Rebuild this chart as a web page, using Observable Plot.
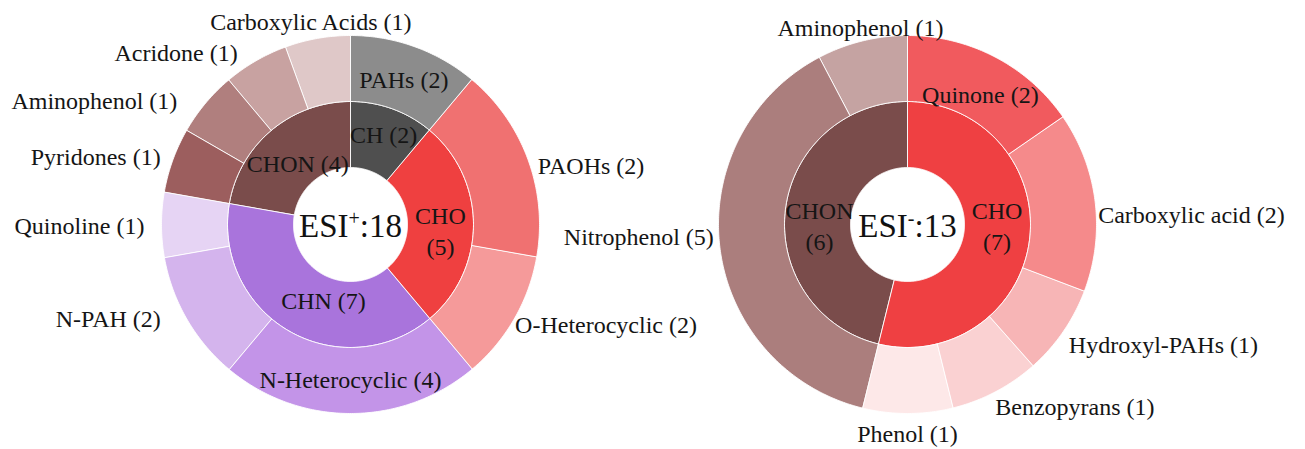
<!DOCTYPE html>
<html>
<head>
<meta charset="utf-8">
<script src="https://cdn.jsdelivr.net/npm/d3@7"></script>
<script src="https://cdn.jsdelivr.net/npm/@observablehq/plot@0.6"></script>
<style>
  html, body { margin: 0; padding: 0; background: #fff; }
  #chart svg { display: block; }
  #chart svg text, #chart svg tspan { font-family: "Liberation Serif", "Times New Roman", serif !important; }
</style>
</head>
<body>
<div id="chart"></div>
<script>
// ---------------- ESI+ (left) data ----------------
const posGroups = ["CH", "CHO", "CHN", "CHON"];
const posGroupCounts = [2, 5, 7, 4];
const posGroupLabels = ["CH (2)", "CHO\n(5)", "CHN (7)", "CHON (4)"];

const posClasses = ["PAHs", "PAOHs", "O-Heterocyclic", "N-Heterocyclic", "N-PAH", "Quinoline",
                    "Pyridones", "Aminophenol", "Acridone", "Carboxylic Acids"];
const posClassGroup = ["CH", "CHO", "CHO", "CHN", "CHN", "CHN", "CHON", "CHON", "CHON", "CHON"];
const posClassCounts = [2, 3, 2, 4, 2, 1, 1, 1, 1, 1];   // arc sizes as drawn
const posClassLabels = ["PAHs (2)", "PAOHs (2)", "O-Heterocyclic (2)", "N-Heterocyclic (4)", "N-PAH (2)",
                        "Quinoline (1)", "Pyridones (1)", "Aminophenol (1)", "Acridone (1)", "Carboxylic Acids (1)"];
const posCenterLabel = ["ESI", "+", ":18"];

// ---------------- ESI- (right) data ----------------
const negGroups = ["CHO", "CHON"];
const negGroupCounts = [7, 6];
const negGroupLabels = ["CHO\n(7)", "CHON\n(6)"];

const negClasses = ["Quinone", "Carboxylic acid", "Hydroxyl-PAHs", "Benzopyrans", "Phenol", "Nitrophenol", "Aminophenol"];
const negClassGroup = ["CHO", "CHO", "CHO", "CHO", "CHO", "CHON", "CHON"];
const negClassCounts = [2, 2, 1, 1, 1, 5, 1];
const negClassLabels = ["Quinone (2)", "Carboxylic acid (2)", "Hydroxyl-PAHs (1)", "Benzopyrans (1)",
                        "Phenol (1)", "Nitrophenol (5)", "Aminophenol (1)"];
const negCenterLabel = ["ESI", "-", ":13"];

// ---------------- styles ----------------
const posGroupColors = ["#4f4f4f", "#ef4040", "#a974dc", "#7a4c4b"];
const posClassColors = ["#8c8c8c", "#f07171", "#f59a9a", "#c394e8", "#d4b4ed", "#e6d4f4",
                        "#9c5e5e", "#b07f7e", "#c8a2a1", "#dfc8c8"];
const negGroupColors = ["#ef4042", "#7a4c4b"];
const negClassColors = ["#f15a5e", "#f58a8b", "#f7b5b6", "#fad1d2", "#fde8e8", "#ab7e7d", "#c5a3a2"];

// ---------------- layout ----------------
const W = 1305, H = 449;
const centers = [{cx: 350, cy: 224}, {cx: 907, cy: 224}];
const R = {hole: 57, mid: 123, outer: 189};
const FONT = "Liberation Serif, Times New Roman, serif";

// label placement: radius, angle nudge (deg), anchor
const posGroupLayout = [{r: 97, da: 0}, {r: 90, da: 3}, {r: 79, da: -10}, {r: 82, da: 0}];
const posClassLayout = [
  {r: 156, da: 0, anchor: "middle"}, {r: 197, da: 2, anchor: "start"}, {r: 192, da: 1, anchor: "start"},
  {r: 154, da: 0, anchor: "middle"}, {r: 211, da: 4, anchor: "end"}, {r: 206, da: 0, anchor: "end"},
  {r: 202, da: 0, anchor: "end"}, {r: 214, da: -4, anchor: "end"}, {r: 207, da: -3, anchor: "end"},
  {r: 208, da: -1, anchor: "middle"}
];
const negGroupLayout = [{r: 89.5, da: -6.9}, {r: 88, da: -6.9}];
const negClassLayout = [
  {r: 150, da: 1.4, anchor: "middle"}, {r: 191, da: 3.6, anchor: "start"}, {r: 200, da: 1.6, anchor: "start"},
  {r: 201, da: 1.8, anchor: "start"}, {r: 208, da: 0, anchor: "middle"}, {r: 194, da: 3.8, anchor: "end"},
  {r: 204, da: 0.5, anchor: "middle"}
];

// ---------------- build geometry from values ----------------
const segPts = [];
const labelRows = [];
function polar(c, r, deg) {
  const a = deg * Math.PI / 180;
  return {x: c.cx + r * Math.sin(a), y: c.cy - r * Math.cos(a)};
}
function addRing(ci, kind, counts, labels, colors, r0, r1, layout) {
  const c = centers[ci];
  const total = d3.sum(counts);
  let acc = 0;
  counts.forEach((v, i) => {
    const a0 = acc / total * 360; acc += v; const a1 = acc / total * 360;
    const id = `${ci}-${kind}-${i}`;
    const n = Math.max(2, Math.ceil((a1 - a0) * 1.5));
    for (let k = 0; k <= n; k++) segPts.push({id, color: colors[i], ...polar(c, r1, a0 + (a1 - a0) * k / n)});
    for (let k = n; k >= 0; k--) segPts.push({id, color: colors[i], ...polar(c, r0, a0 + (a1 - a0) * k / n)});
    const L = layout[i];
    labelRows.push({text: labels[i], anchor: L.anchor || "middle", ...polar(c, L.r, (a0 + a1) / 2 + (L.da || 0))});
  });
}
addRing(0, "in", posGroupCounts, posGroupLabels, posGroupColors, R.hole, R.mid, posGroupLayout);
addRing(0, "out", posClassCounts, posClassLabels, posClassColors, R.mid, R.outer, posClassLayout);
addRing(1, "in", negGroupCounts, negGroupLabels, negGroupColors, R.hole, R.mid, negGroupLayout);
addRing(1, "out", negClassCounts, negClassLabels, negClassColors, R.mid, R.outer, negClassLayout);

const centerRows = [
  {key: 0, text: posCenterLabel.join(""), x: centers[0].cx, y: centers[0].cy + 2},
  {key: 1, text: negCenterLabel.join(""), x: centers[1].cx, y: centers[1].cy + 2}
];
const centerParts = [posCenterLabel, negCenterLabel];

const textOpts = {x: "x", y: "y", text: "text", fontSize: 24, fontFamily: FONT, fill: "#151515", lineHeight: 1.3};

const plot = Plot.plot({
  width: W, height: H, margin: 0,
  x: {domain: [0, W], range: [0, W], axis: null},
  y: {domain: [0, H], range: [0, H], axis: null},
  color: {type: "identity"},
  style: {background: "white", fontFamily: FONT},
  marks: [
    Plot.line(segPts, {x: "x", y: "y", z: "id", fill: "color", stroke: "#ffffff", strokeWidth: 1, strokeOpacity: 0.9, curve: "linear-closed"}),
    Plot.text(labelRows.filter(d => d.anchor === "middle"), {...textOpts, textAnchor: "middle"}),
    Plot.text(labelRows.filter(d => d.anchor === "start"), {...textOpts, textAnchor: "start"}),
    Plot.text(labelRows.filter(d => d.anchor === "end"), {...textOpts, textAnchor: "end"}),
    Plot.text(centerRows, {x: "x", y: "y", text: "text", fontSize: 33, fontFamily: FONT, fill: "#111", textAnchor: "middle"})
  ]
});
document.getElementById("chart").appendChild(plot);

// superscript sign in the centre labels
const ns = "http://www.w3.org/2000/svg";
plot.querySelectorAll("text").forEach(t => {
  const idx = centerRows.findIndex(r => r.text === t.textContent);
  if (idx < 0) return;
  const parts = centerParts[idx];
  t.textContent = "";
  const a = document.createElementNS(ns, "tspan"); a.textContent = parts[0];
  const b = document.createElementNS(ns, "tspan"); b.textContent = parts[1];
  b.setAttribute("font-size", "20"); b.setAttribute("dy", "-12");
  const c = document.createElementNS(ns, "tspan"); c.textContent = parts[2];
  c.setAttribute("dy", "12");
  t.append(a, b, c);
});
</script>
</body>
</html>
